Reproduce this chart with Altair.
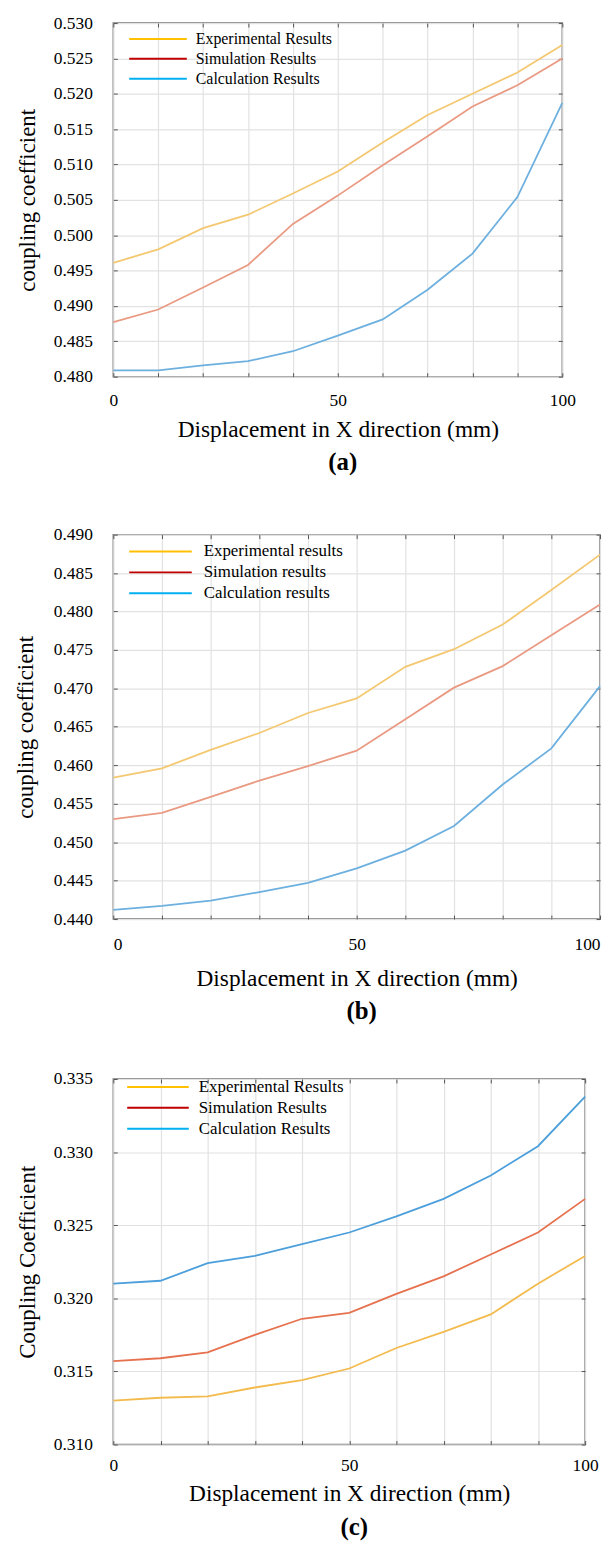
import altair as alt
import pandas as pd

FONT = "Liberation Serif"

X_MM = [0, 10, 20, 30, 40, 50, 60, 70, 80, 90, 100]

# Panel (a)
A_NAMES = ["Experimental Results", "Simulation Results", "Calculation Results"]
A_EXP = [0.4961, 0.4980, 0.5010, 0.5029, 0.5059, 0.5090, 0.5131, 0.5170, 0.5200, 0.5230, 0.5269]
A_SIM = [0.4877, 0.4895, 0.4926, 0.4958, 0.5016, 0.5056, 0.5099, 0.5140, 0.5182, 0.5212, 0.5250]
A_CAL = [0.4809, 0.4809, 0.4816, 0.4822, 0.4836, 0.4858, 0.4881, 0.4923, 0.4974, 0.5054, 0.5187]
A_YTICKS = [0.480, 0.485, 0.490, 0.495, 0.500, 0.505, 0.510, 0.515, 0.520, 0.525, 0.530]

# Panel (b)
B_NAMES = ["Experimental results", "Simulation results", "Calculation results"]
B_EXP = [0.4584, 0.4596, 0.4620, 0.4642, 0.4668, 0.4687, 0.4728, 0.4751, 0.4783, 0.4828, 0.4874]
B_SIM = [0.4530, 0.4538, 0.4559, 0.4580, 0.4599, 0.4619, 0.4660, 0.4701, 0.4729, 0.4769, 0.4809]
B_CAL = [0.4412, 0.4417, 0.4424, 0.4435, 0.4447, 0.4466, 0.4489, 0.4521, 0.4575, 0.4622, 0.4703]
B_YTICKS = [0.440, 0.445, 0.450, 0.455, 0.460, 0.465, 0.470, 0.475, 0.480, 0.485, 0.490]

# Panel (c)
C_NAMES = ["Experimental Results", "Simulation Results", "Calculation Results"]
C_EXP = [0.3130, 0.3132, 0.3133, 0.3139, 0.3144, 0.3152, 0.3166, 0.3177, 0.3189, 0.3210, 0.3229]
C_SIM = [0.3157, 0.3159, 0.3163, 0.3175, 0.3186, 0.3190, 0.3203, 0.3215, 0.3230, 0.3245, 0.3268]
C_CAL = [0.3210, 0.3212, 0.3224, 0.3229, 0.3237, 0.3245, 0.3256, 0.3268, 0.3284, 0.3304, 0.3338]
C_YTICKS = [0.310, 0.315, 0.320, 0.325, 0.330, 0.335]

LEGEND_COLORS = ["#FFC000", "#C00000", "#00B0F0"]
FADED_COLORS = ["#F4C871", "#EA9A82", "#6DB0DF"]
STRONG_COLORS = ["#F3BB4E", "#E6714F", "#4C9FDB"]

TICK_COLOR = "#555555"
GRID_COLOR = "#e2e2e2"


def panel(exp, sim, cal, names, yticks, ytitle, caption, w, h, line_colors,
          lg, lp, tp, ytp, cap_off, flush):
    rows = []
    for name, vals in zip(names, [exp, sim, cal]):
        for xv, yv in zip(X_MM, vals):
            rows.append({"x": xv, "y": yv, "series": name})
    df = pd.DataFrame(rows)

    xscale = alt.Scale(domain=[0, 100], nice=False, zero=False)
    yscale = alt.Scale(domain=[yticks[0], yticks[-1]], nice=False, zero=False)

    x_main = alt.X(
        "x:Q", scale=xscale,
        axis=alt.Axis(
            values=X_MM,
            labelExpr="datum.value % 50 === 0 ? datum.label : ''",
            title="Displacement in X direction (mm)",
            labelFont=FONT, labelFontSize=17.5, labelColor="black",
            labelPadding=lp, labelFlush=flush,
            ticks=True, tickSize=4, offset=-4, tickColor=TICK_COLOR,
            tickWidth=1, domain=False,
            grid=True, gridColor=GRID_COLOR, gridWidth=1.2,
            titleFont=FONT, titleFontSize=23.5, titleFontWeight="normal",
            titleColor="black", titlePadding=tp,
        ),
    )
    y_main = alt.Y(
        "y:Q", scale=yscale,
        axis=alt.Axis(
            values=yticks, format=".3f", title=ytitle,
            labelFont=FONT, labelFontSize=17.5, labelColor="black",
            labelPadding=21, labelFlush=False,
            ticks=True, tickSize=4, offset=-4, tickColor=TICK_COLOR,
            tickWidth=1, domain=False,
            grid=True, gridColor=GRID_COLOR, gridWidth=1.2,
            titleFont=FONT, titleFontSize=23, titleFontWeight="normal",
            titleColor="black", titlePadding=ytp,
        ),
    )
    x_top = alt.X(
        "x:Q", scale=xscale,
        axis=alt.Axis(
            orient="top", values=X_MM, labels=False, title=None,
            ticks=True, tickSize=4, offset=-4, tickColor=TICK_COLOR,
            tickWidth=1, domain=False, grid=False,
        ),
    )
    y_right = alt.Y(
        "y:Q", scale=yscale,
        axis=alt.Axis(
            orient="right", values=yticks, labels=False, title=None,
            ticks=True, tickSize=4, offset=-4, tickColor=TICK_COLOR,
            tickWidth=1, domain=False, grid=False,
        ),
    )

    legend_layer = alt.Chart(df).mark_line(opacity=0).encode(
        x=x_main, y=y_main,
        color=alt.Color(
            "series:N",
            scale=alt.Scale(domain=names, range=LEGEND_COLORS),
            legend=alt.Legend(
                title=None, orient="none",
                legendX=lg["x"], legendY=lg["y"],
                symbolType="stroke", symbolSize=lg["size"],
                symbolStrokeWidth=2, symbolOpacity=1,
                labelFont=FONT, labelFontSize=lg["font"], labelColor="black",
                labelOffset=lg["off"], clipHeight=lg["row"], rowPadding=0,
                padding=0, labelLimit=400,
            ),
        ),
    )
    tick_layer = alt.Chart(df).mark_line(opacity=0).encode(
        x=x_top, y=y_right, detail="series:N"
    )
    lines = alt.Chart(df).mark_line(strokeWidth=1.8).encode(
        x=alt.X("x:Q", scale=xscale, axis=None),
        y=alt.Y("y:Q", scale=yscale, axis=None),
        color=alt.Color(
            "series:N",
            scale=alt.Scale(domain=names, range=line_colors),
            legend=None,
        ),
    )
    return (
        alt.layer(legend_layer, tick_layer, lines)
        .resolve_scale(color="independent")
        .resolve_axis(x="independent", y="independent")
        .properties(
            width=w, height=h,
            title=alt.TitleParams(
                caption, orient="bottom", font=FONT, fontSize=25,
                fontWeight="bold", color="black", offset=cap_off, dx=5,
                anchor="middle", frame="group",
            ),
        )
    )


pa = panel(A_EXP, A_SIM, A_CAL, A_NAMES, A_YTICKS, "coupling coefficient", "(a)",
           452, 356, FADED_COLORS,
           {"x": 15, "y": 6.25, "size": 3364, "font": 16, "off": 8, "row": 19.5},
           15, 9, 14, 9, False)
pb = panel(B_EXP, B_SIM, B_CAL, B_NAMES, B_YTICKS, "coupling coefficient", "(b)",
           490, 387, FADED_COLORS,
           {"x": 15, "y": 6.75, "size": 3969, "font": 17, "off": 11, "row": 20.5},
           17, 13, 16, 10, True)
pc = panel(C_EXP, C_SIM, C_CAL, C_NAMES, C_YTICKS, "Coupling Coefficient", "(c)",
           475, 368, STRONG_COLORS,
           {"x": 13, "y": -2.25, "size": 3844, "font": 17, "off": 9, "row": 20.5},
           12, 8, 14, 10, False)

chart = (
    alt.vconcat(pa, alt.vconcat(pb, pc, spacing=44), spacing=49)
    .resolve_scale(color="independent", x="independent", y="independent")
    .properties(padding={"left": 5, "right": 0, "top": 0, "bottom": 0})
    .configure(background="white", font=FONT)
    .configure_axis(labelFont=FONT, titleFont=FONT)
    .configure_legend(labelFont=FONT)
    .configure_view(stroke="#7a7a7a", strokeWidth=1.5)
)

chart.save("out.html", embed_options={"renderer": "svg", "actions": False})
